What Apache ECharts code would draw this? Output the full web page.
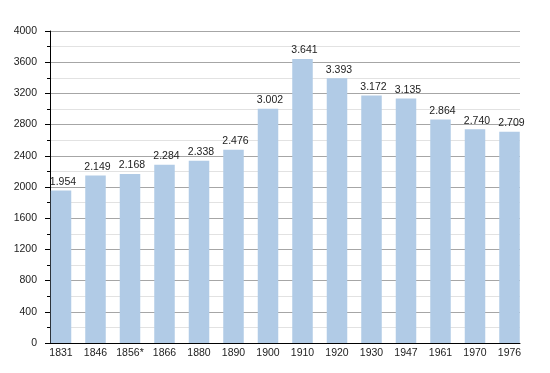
<!DOCTYPE html>
<html><head><meta charset="utf-8">
<script src="https://cdn.jsdelivr.net/npm/echarts@6/dist/echarts.min.js"></script>
<style>html,body{margin:0;padding:0;background:#fff}#c{width:550px;height:373px}</style>
</head><body><div id="c"></div>
<script>
const categories = ['1831','1846','1856*','1866','1880','1890','1900','1910','1920','1930','1947','1961','1970','1976'];
const population = [1954,2149,2168,2284,2338,2476,3002,3641,3393,3172,3135,2864,2740,2709];
const yMin = 0, yMax = 4000, yStep = 400;

const font = '"Liberation Sans", Arial, Helvetica, sans-serif';
const chart = echarts.init(document.getElementById('c'), null, {renderer:'canvas'});
chart.setOption({
  animation:false,
  backgroundColor:'#fff',
  grid:[
    {left:50, right:30, top:31, bottom:30, containLabel:false},
    {left:43.75, right:23.25, top:31, bottom:30, containLabel:false}
  ],
  xAxis:[
    {gridIndex:0, type:'value', min:0, max:1, show:true,
     axisLine:{show:true, onZero:false, lineStyle:{color:'#000', width:1}},
     axisTick:{show:false}, axisLabel:{show:false}, splitLine:{show:false}},
    {gridIndex:1, type:'category', data:categories,
     axisLine:{show:false}, axisTick:{show:false},
     axisLabel:{color:'#222', fontSize:10.5, fontFamily:font, margin:5, interval:0}}
  ],
  yAxis:[
    {gridIndex:0, type:'value', min:yMin, max:yMax, interval:yStep,
     axisLine:{show:true, lineStyle:{color:'#000', width:1}},
     axisTick:{show:true, length:5, lineStyle:{color:'#000'}},
     minorTick:{show:true, splitNumber:2, length:3, lineStyle:{color:'#000'}},
     axisLabel:{color:'#222', fontSize:10.5, fontFamily:font, margin:13, formatter:v => String(v)},
     splitLine:{show:true, lineStyle:{color:'#a6a6a6', width:1}},
     minorSplitLine:{show:true, lineStyle:{color:'#e2e2e2', width:1}}},
    {gridIndex:1, type:'value', min:yMin, max:yMax, show:false, splitLine:{show:false}}
  ],
  series:[{
    type:'bar', xAxisIndex:1, yAxisIndex:1, data:population, barWidth:20.5, z:5,
    itemStyle:{color:'#b1cbe6'},
    label:{show:true, position:'top', distance:3, offset:[2,0], color:'#222', fontSize:10.5, fontFamily:font,
      formatter:p => { const s=String(p.value); return s.length>3 ? s.slice(0,s.length-3)+'.'+s.slice(-3) : s; }}
  }]
});
</script></body></html>
